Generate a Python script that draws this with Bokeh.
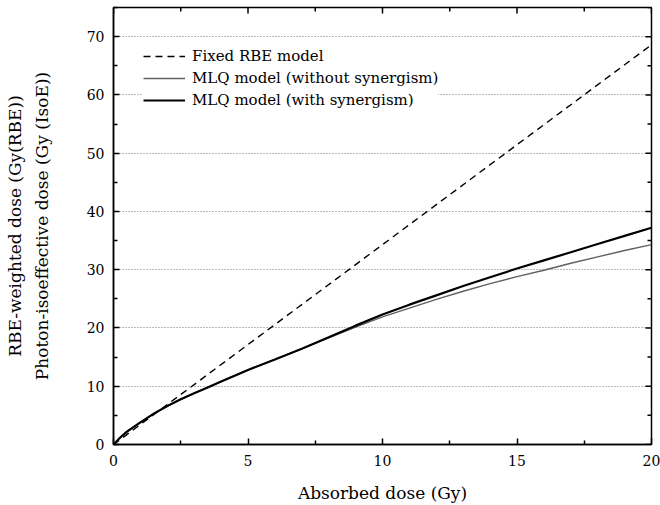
import math
from bokeh.plotting import figure
from bokeh.models import Range1d, FixedTicker, Legend, LegendItem
from bokeh.embed import file_html
from bokeh.resources import INLINE

# ---- data ----
dose_fixed = [0, 20]
rbe_fixed = [0, 68.6]

dose = [0, 0.25, 0.5, 1, 1.5, 2, 2.5, 3, 3.5, 4, 4.5, 5, 6, 7, 8, 9, 10, 11, 12, 13, 14,
        15, 16, 17, 18, 19, 20]
mlq_without = [0, 1.2, 2.2, 3.8, 5.3, 6.6, 7.75, 8.8, 9.8, 10.8, 11.8, 12.8, 14.6, 16.4,
               18.3, 20.15, 21.9, 23.4, 24.9, 26.3, 27.6, 28.8, 29.9, 31.1, 32.2, 33.3, 34.3]
mlq_with = [0, 1.2, 2.2, 3.8, 5.3, 6.6, 7.75, 8.8, 9.8, 10.8, 11.8, 12.8, 14.6, 16.45,
            18.4, 20.4, 22.3, 24.0, 25.6, 27.2, 28.7, 30.2, 31.6, 33.0, 34.4, 35.8, 37.2]

x_major = [0, 5, 10, 15, 20]
x_minor = [2.5, 7.5, 12.5, 17.5]
y_major = [0, 10, 20, 30, 40, 50, 60, 70]
y_minor = [5, 15, 25, 35, 45, 55, 65, 75]

legend_labels = ["Fixed RBE model", "MLQ model (without synergism)", "MLQ model (with synergism)"]
x_title = "Absorbed dose (Gy)"
y_title = "RBE-weighted dose (Gy(RBE))\nPhoton-isoeffective dose (Gy (IsoE))"

FONT = "DejaVu Serif"
X_MAX, Y_MAX = 20, 75

p = figure(width=660, height=505, x_range=Range1d(0, X_MAX), y_range=Range1d(0, Y_MAX),
           output_backend="svg", toolbar_location=None,
           min_border_left=113, min_border_right=9, min_border_top=7, min_border_bottom=61)
p.background_fill_color = "white"
p.border_fill_color = "white"
p.outline_line_color = "black"
p.outline_line_width = 1.5

xt = FixedTicker(ticks=x_major, minor_ticks=x_minor)
yt = FixedTicker(ticks=y_major, minor_ticks=y_minor)
p.xaxis.ticker = xt
p.yaxis.ticker = yt

for ax in (p.xaxis[0], p.yaxis[0]):
    ax.axis_line_color = "black"
    ax.axis_line_width = 1.5
    ax.major_tick_in = 6
    ax.major_tick_out = 0
    ax.minor_tick_in = 4
    ax.minor_tick_out = 0
    ax.major_tick_line_width = 1.5
    ax.minor_tick_line_width = 1.5
    ax.major_label_text_font = FONT
    ax.major_label_text_font_size = "14px"
    ax.major_label_text_color = "black"
    ax.axis_label_text_font = FONT
    ax.axis_label_text_font_style = "normal"
    ax.axis_label_text_color = "black"

p.xaxis.axis_label = x_title
p.xaxis.axis_label_text_font_size = "17px"
p.xaxis.major_label_standoff = 10
p.xaxis.axis_label_standoff = 14
p.yaxis.axis_label = y_title
p.yaxis.axis_label_text_font_size = "17px"
p.yaxis.axis_label_text_line_height = 1.35
p.yaxis.major_label_standoff = 9
p.yaxis.axis_label_standoff = 32

# mirror ticks on the top and right edges of the frame
tick_kw = dict(line_color="black", line_width=1.5, length_units="screen")
p.ray(x=x_major, y=[Y_MAX] * len(x_major), length=6, angle=-math.pi / 2, **tick_kw)
p.ray(x=x_minor, y=[Y_MAX] * len(x_minor), length=4, angle=-math.pi / 2, **tick_kw)
p.ray(x=[X_MAX] * len(y_major), y=y_major, length=6, angle=math.pi, **tick_kw)
p.ray(x=[X_MAX] * len(y_minor), y=y_minor, length=4, angle=math.pi, **tick_kw)

p.xgrid.visible = False
p.ygrid.ticker = FixedTicker(ticks=y_major[1:])
p.ygrid.grid_line_color = "#777777"
p.ygrid.grid_line_dash = "1 2"
p.ygrid.grid_line_width = 1

r_fixed = p.line(dose_fixed, rbe_fixed, line_color="black", line_width=1.4, line_dash="7 5")
r_without = p.line(dose, mlq_without, line_color="#606060", line_width=1.4)
r_with = p.line(dose, mlq_with, line_color="black", line_width=2.2)

legend = Legend(items=[LegendItem(label=legend_labels[0], renderers=[r_fixed]),
                       LegendItem(label=legend_labels[1], renderers=[r_without]),
                       LegendItem(label=legend_labels[2], renderers=[r_with])],
                location=(30, 334))
legend.margin = 0
legend.padding = 6
legend.spacing = 2
legend.label_height = 20
legend.glyph_height = 20
legend.glyph_width = 42
legend.label_standoff = 7
legend.label_text_font = FONT
legend.label_text_font_size = "15px"
legend.label_text_color = "black"
legend.border_line_color = None
legend.background_fill_color = "white"
legend.background_fill_alpha = 1
p.add_layout(legend, "center")

open("out.html", "w").write(file_html(p, INLINE))
